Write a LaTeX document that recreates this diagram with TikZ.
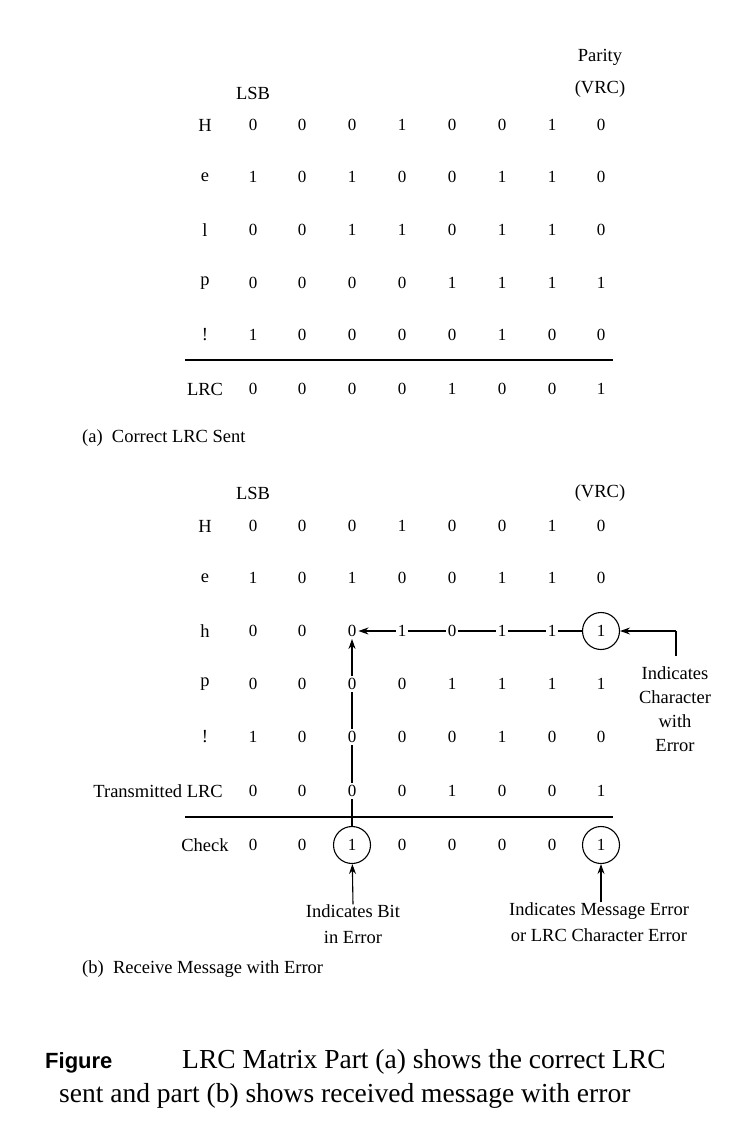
\documentclass[tikz,border=0pt]{standalone}
\usepackage{fontspec}
\setmainfont{Liberation Serif}
\setsansfont{Liberation Sans}
\usetikzlibrary{arrows.meta}
\begin{document}
\begin{tikzpicture}[x=1pt,y=-1pt,
  dig/.style={font=\fontsize{17}{19}\selectfont, inner sep=2pt},
  lbl/.style={font=\fontsize{18.5}{21}\selectfont, inner sep=0pt},
  circ/.style={dig, circle, draw, line width=1.1pt, minimum size=37pt},
  ln/.style={line width=1.1pt},
  arr/.style={line width=1.1pt,-{Stealth[length=10pt,width=7pt]}}]
\useasboundingbox (0,0) rectangle (736,1130);
\def\xs{{253,302,352,402,452,502,552,601}}
% Part (a)
\node[lbl] (par) at (600,57) {Parity};
\node[lbl] (vrca) at (600,89) {(VRC)};
\node[lbl] (lsba) at (253,93) {LSB};
\foreach \name/\y/\bits in {H/125/{0,0,0,1,0,0,1,0}, e/177/{1,0,1,0,0,1,1,0}, l/230/{0,0,1,1,0,1,1,0}, p/283/{0,0,0,0,1,1,1,1}, !/335/{1,0,0,0,0,1,0,0}, LRC/389/{0,0,0,0,1,0,0,1}}{
  \node[lbl] (a-\name) at (205,\y) {\name};
  \foreach \b [count=\i from 0] in \bits {
    \pgfmathsetmacro\xx{\xs[\i]}
    \node[dig] (a-\name-\i) at (\xx,\y) {\b};
  }
}
\coordinate (ra1) at (185,360); \coordinate (ra2) at (613,360);
\draw[ln] (ra1) -- (ra2);
\node[lbl,anchor=west] (capa) at (82,438) {(a)\enspace Correct LRC Sent};
% Part (b)
\node[lbl] (lsbb) at (253,493) {LSB};
\node[lbl] (vrcb) at (600,493) {(VRC)};
\foreach \name/\lab/\y/\bits in {H/H/526/{0,0,0,1,0,0,1,0}, e/e/578/{1,0,1,0,0,1,1,0}, h/h/631/{0,0,0,1,0,1,1,X}, p/p/684/{0,0,0,0,1,1,1,1}, x/!/737/{1,0,0,0,0,1,0,0}, t/{}/791/{0,0,0,0,1,0,0,1}, c/Check/845/{0,0,X,0,0,0,0,X}}{
  \node[lbl] (b-\name) at (205,\y) {\lab};
  \foreach \b [count=\i from 0] in \bits {
    \pgfmathsetmacro\xx{\xs[\i]}
    \if X\b\relax
      \coordinate (b-\name-\i) at (\xx,\y);
    \else
      \node[dig] (b-\name-\i) at (\xx,\y) {\b};
    \fi
  }
}
\node[lbl,anchor=east] (tlrc) at (223,791) {Transmitted LRC};
\node[circ] (ch) at (601,631) {1};
\node[circ] (c2) at (352,845) {1};
\node[circ] (c7) at (601,845) {1};
\coordinate (rb1) at (185,817); \coordinate (rb2) at (613,817);
\draw[ln] (rb1) -- (rb2);
\node[lbl,anchor=west] (capb) at (82,969) {(b)\enspace Receive Message with Error};
% row h chain
\draw[ln] (ch) -- (b-h-6) -- (b-h-5) -- (b-h-4) -- (b-h-3);
\draw[arr] (b-h-3) -- (b-h-2);
% vertical chain
\draw[ln] (c2) -- (b-t-2) -- (b-x-2) -- (b-p-2);
\draw[arr] (b-p-2) -- (b-h-2);
% character error
\node[lbl,align=center,font=\fontsize{18.5}{24}\selectfont] (ice) at (675,709) {Indicates\\Character\\with\\Error};
\coordinate (k1) at (676,656); \coordinate (k2) at (676,631);
\draw[ln] (k1) -- (k2);
\draw[arr] (k2) -- (ch);
% bottom labels
\node[lbl,align=center,font=\fontsize{18.5}{26}\selectfont] (ibe) at (353,924) {Indicates Bit\\in Error};
\node[lbl,align=center,font=\fontsize{18.5}{26}\selectfont] (ime) at (599,922) {Indicates Message Error\\or LRC Character Error};
\draw[arr] (ibe.north) -- (c2);
\draw[arr] (ime.north -| c7) -- (c7);
% figure caption
\node[anchor=west,inner sep=0pt,font=\sffamily\bfseries\fontsize{22}{26}\selectfont] (fig) at (45,1063) {Figure};
\node[anchor=west,inner sep=0pt,font=\fontsize{27.5}{30}\selectfont] (cap1) at (182,1062) {LRC Matrix Part (a) shows the correct LRC};
\node[anchor=west,inner sep=0pt,font=\fontsize{27.5}{30}\selectfont] (cap2) at (59,1096) {sent and part (b) shows received message with error};
\end{tikzpicture}
\end{document}
